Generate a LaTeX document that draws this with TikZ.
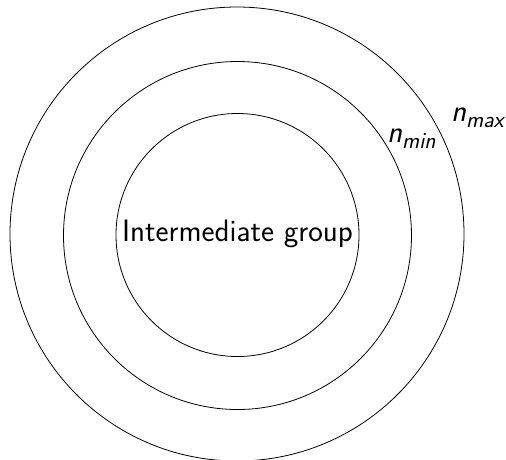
\documentclass[tikz,border=0pt]{standalone}
\begin{document}
\begin{tikzpicture}[x=1pt,y=-1pt,
  ring/.style={draw,line width=0.8pt},
  lbl/.style={font=\fontsize{31}{36}\selectfont\sffamily, inner sep=0pt}]
\useasboundingbox (0,0) rectangle (506,459);
\begin{scope}
\clip (0,0) rectangle (506,459);
\draw[ring] (237,234) circle (227);
\draw[ring] (237.5,235.5) circle (174);
\draw[ring] (237.5,235) circle (121.5);
\end{scope}
\node[lbl] (ig) at (237.5,234) {Intermediate group};
\node[lbl, anchor=base west] (nmin) at (387,142) {\itshape n\raisebox{-0.22em}{\fontsize{23}{26}\selectfont min}};
\node[lbl, anchor=base west] (nmax) at (451,121) {\itshape n\raisebox{-0.22em}{\fontsize{23}{26}\selectfont max}};
\end{tikzpicture}
\end{document}
